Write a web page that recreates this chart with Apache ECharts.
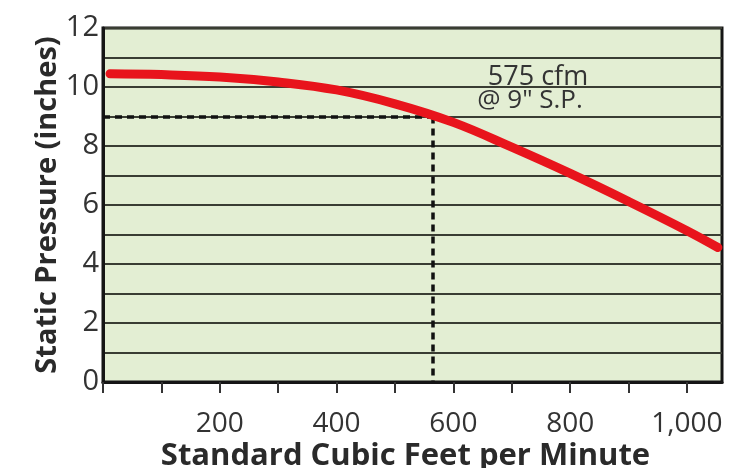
<!DOCTYPE html>
<html>
<head>
<meta charset="utf-8">
<script src="https://cdn.jsdelivr.net/npm/echarts@6/dist/echarts.min.js"></script>
<style>
  html, body { margin: 0; padding: 0; background: #fff; }
  #chart { width: 749px; height: 468px; }
</style>
</head>
<body>
<div id="chart"></div>
<script>
// fan curve
const cfm = [12, 100, 200, 300, 400, 500, 600, 700, 800, 900, 1000, 1053];
const pressure = [10.45, 10.42, 10.34, 10.17, 9.9, 9.43, 8.8, 7.96, 7.07, 6.12, 5.13, 4.56];

// operating point (dashed guide lines)
const opCfm = 565;
const opPressure = 9;
const noteLines = ["575 cfm", "@ 9\" S.P."];

const xMax = 1060;
const yMax = 12;

const textColor = "#333";
const font = "'Open Sans', sans-serif";

const chart = echarts.init(document.getElementById("chart"));

chart.setOption({
  animation: false,
  grid: {
    left: 103, right: 27, top: 28, bottom: 86,
    outerBoundsMode: "none",
    containLabel: false,
    show: true,
    backgroundColor: "#e3eed3",
    borderColor: "#151515",
    borderWidth: 3
  },
  xAxis: {
    type: "value",
    min: 0, max: xMax, interval: 100,
    name: "Standard Cubic Feet per Minute",
    nameLocation: "middle",
    nameGap: 59,
    nameMoveOverlap: false,
    nameTextStyle: { fontFamily: font, fontWeight: "bold", fontSize: 31, color: "#2a2a2a", padding: [0, 14, 0, 0] },
    axisLine: { show: true, lineStyle: { color: "#151515", width: 3 } },
    axisTick: { show: true, inside: false, length: 11, lineStyle: { color: "#333", width: 2 } },
    axisLabel: {
      margin: 28,
      fontFamily: font, fontSize: 28, color: textColor,
      showMaxLabel: false,
      formatter: (v) => (v > 0 && v % 200 === 0 ? v.toLocaleString("en-US") : "")
    },
    splitLine: { show: false }
  },
  yAxis: {
    type: "value",
    min: 0, max: yMax, interval: 1,
    name: "Static Pressure (inches)",
    nameLocation: "middle",
    nameGap: 41,
    nameMoveOverlap: false,
    nameTextStyle: { fontFamily: font, fontWeight: "bold", fontSize: 29, color: "#2a2a2a" },
    axisLine: { show: true, lineStyle: { color: "#151515", width: 3 } },
    axisTick: { show: false },
    axisLabel: {
      margin: 4,
      fontFamily: font, fontSize: 29, color: textColor,
      formatter: (v) => (v % 2 === 0 ? String(v) : "")
    },
    splitLine: { show: true, lineStyle: { color: "#3a3d33", width: 2 } }
  },
  series: [
    {
      type: "line",
      data: cfm.map((x, i) => [x, pressure[i]]),
      smooth: 0.4,
      showSymbol: false,
      lineStyle: { color: "#e8141c", width: 9, cap: "round" },
      z: 5,
      markLine: {
        silent: true,
        symbol: ["none", "none"],
        label: { show: false },
        lineStyle: { color: "#111", type: [7, 5], width: 3.5 },
        data: [
          [{ coord: [0, opPressure] }, { coord: [opCfm, opPressure] }],
          [{ coord: [opCfm, opPressure] }, { coord: [opCfm, 0] }]
        ]
      }
    }
  ],
  graphic: [
    {
      type: "text", x: 538, y: 77,
      style: { text: noteLines[0], fontFamily: font, fontSize: 27, fill: textColor, align: "center", verticalAlign: "middle" }
    },
    {
      type: "text", x: 530, y: 101,
      style: { text: noteLines[1], fontFamily: font, fontSize: 26, fill: textColor, align: "center", verticalAlign: "middle" }
    }
  ]
});
</script>
</body>
</html>
